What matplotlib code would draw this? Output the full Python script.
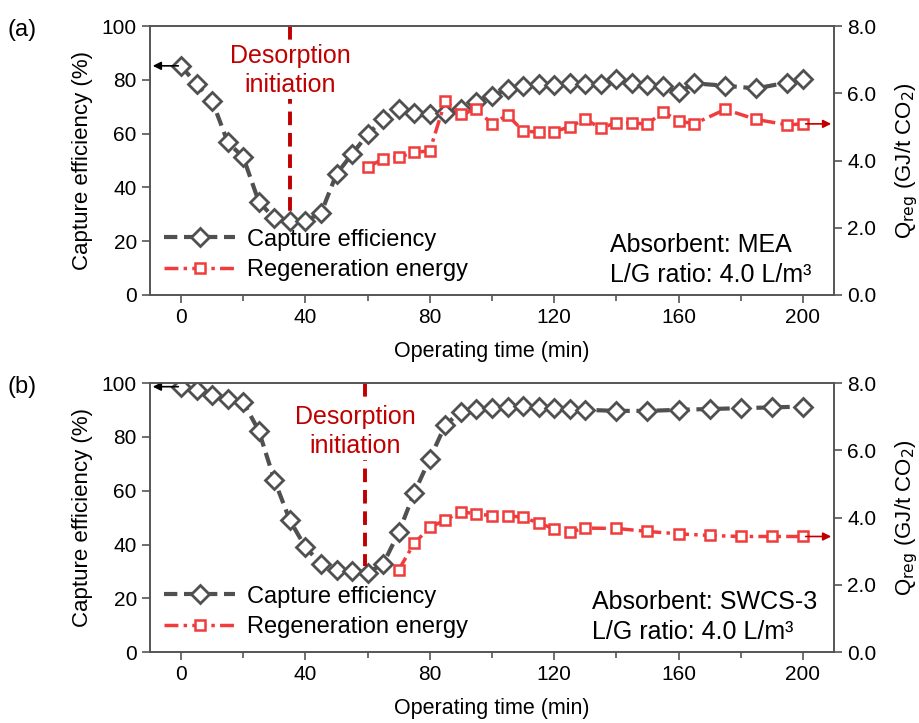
import numpy as np
import matplotlib.pyplot as plt
from matplotlib.ticker import MultipleLocator

plt.rcParams["font.family"] = ["Liberation Sans", "DejaVu Sans"]
plt.rcParams["font.size"] = 15

# ---- panel (a): MEA ----
t_ce_a = [0, 5, 10, 15, 20, 25, 30, 35, 40, 45, 50, 55, 60, 65, 70, 75, 80, 85, 90, 95,
          100, 105, 110, 115, 120, 125, 130, 135, 140, 145, 150, 155, 160, 165, 175, 185, 195, 200]
ce_a = [85.2, 78.3, 72.2, 56.8, 51.2, 34.7, 28.5, 27.6, 27.6, 30.4, 45.0, 52.4, 59.7, 65.4,
        69.0, 67.8, 67.4, 67.5, 69.0, 71.9, 74.0, 76.5, 77.8, 78.3, 78.0, 79.0, 78.3, 78.3,
        80.3, 78.7, 78.0, 77.8, 75.3, 78.7, 77.8, 76.8, 79.0, 80.3]
t_q_a = [60, 65, 70, 75, 80, 85, 90, 95, 100, 105, 110, 115, 120, 125, 130, 135, 140, 145,
         150, 155, 160, 165, 175, 185, 195, 200]
q_a = [3.80, 4.05, 4.10, 4.24, 4.29, 5.78, 5.38, 5.52, 5.09, 5.35, 4.88, 4.84, 4.86, 5.00,
       5.23, 4.96, 5.13, 5.12, 5.08, 5.45, 5.18, 5.09, 5.52, 5.22, 5.06, 5.09]

# ---- panel (b): SWCS-3 ----
t_ce_b = [0, 5, 10, 15, 20, 25, 30, 35, 40, 45, 50, 55, 60, 65, 70, 75, 80, 85, 90, 95,
          100, 105, 110, 115, 120, 125, 130, 140, 150, 160, 170, 180, 190, 200]
ce_b = [98.7, 97.5, 95.5, 94.3, 93.0, 82.3, 64.0, 49.0, 39.0, 32.8, 30.6, 30.0, 29.6, 32.8,
        44.5, 59.3, 71.9, 84.5, 89.4, 90.4, 90.7, 91.3, 91.5, 91.3, 90.7, 90.3, 90.1, 89.7,
        89.7, 90.1, 90.4, 90.7, 91.0, 91.3]
t_q_b = [70, 75, 80, 85, 90, 95, 100, 105, 110, 115, 120, 125, 130, 140, 150, 160, 170,
         180, 190, 200]
q_b = [2.45, 3.24, 3.71, 3.93, 4.18, 4.11, 4.06, 4.06, 4.01, 3.84, 3.67, 3.57, 3.69, 3.68,
       3.59, 3.52, 3.47, 3.44, 3.44, 3.44]

# tag, series, desorption line x / end y, text x / y, absorbent, note x
panels = [
    ("(a)", t_ce_a, ce_a, t_q_a, q_a, 35, 29, 35, 83.5, "Absorbent: MEA", 0.672),
    ("(b)", t_ce_b, ce_b, t_q_b, q_b, 59, 32, 56, 82, "Absorbent: SWCS-3", 0.646),
]

gray = "#505050"
red = "#f03c3c"
dark_red = "#c00000"
spine = "#555555"

fig = plt.figure(figsize=(9.19, 7.23), dpi=100)
bottoms = [0.592, 0.098]

for (tag, t1, y1, t2, y2, xdes, ydes_end, xtext, ytext, absorbent, xnote), bot in zip(panels, bottoms):
    ax = fig.add_axes([0.1632, bot, 0.7443, 0.372])
    ax2 = ax.twinx()

    ln1, = ax.plot(t1, y1, color=gray, ls=(0, (3.2, 1.6)), lw=3, marker="D", ms=9.5,
                   mfc="white", mec=gray, mew=2, label="Capture efficiency")
    ln2, = ax2.plot(t2, y2, color=red, ls=(0, (4, 1.5, 1, 1.5)), lw=2.5, marker="s", ms=6.8,
                    mfc="white", mec=red, mew=1.8, label="Regeneration energy")

    # desorption initiation marker
    ax.plot([xdes, xdes], [100, ydes_end], color=dark_red, ls=(0, (3.5, 2)), lw=2.8)
    ax.text(xtext, ytext, "Desorption\ninitiation", color=dark_red, ha="center", va="center",
            fontsize=18, linespacing=1.28,
            bbox=dict(facecolor="white", edgecolor="none", pad=1))

    # arrows pointing to each series' axis
    ax.annotate("", xy=(-10, y1[0]), xytext=(t1[0], y1[0]),
                arrowprops=dict(arrowstyle="-|>", color="black", lw=1.2, mutation_scale=12))
    ax2.annotate("", xy=(210, y2[-1]), xytext=(t2[-1], y2[-1]),
                 arrowprops=dict(arrowstyle="-|>", color=dark_red, lw=1.2, mutation_scale=12))

    ax.set_xlim(-10, 210)
    ax.set_ylim(0, 100)
    ax2.set_ylim(0, 8)
    ax.xaxis.set_major_locator(MultipleLocator(40))
    ax.xaxis.set_minor_locator(MultipleLocator(20))
    ax.yaxis.set_major_locator(MultipleLocator(20))
    ax2.yaxis.set_major_locator(MultipleLocator(2))
    ax2.yaxis.set_major_formatter(plt.FormatStrFormatter("%.1f"))

    for a in (ax, ax2):
        for s in a.spines.values():
            s.set_color(spine)
            s.set_linewidth(1.2)
        a.tick_params(which="both", direction="out", color=spine, width=1.2, labelsize=15)
        a.tick_params(which="major", length=6)
        a.tick_params(which="minor", length=4)

    ax.set_ylabel("Capture efficiency (%)", fontsize=16, labelpad=6)
    ax2.set_ylabel(r"Q$_{\mathrm{reg}}$ (GJ/t CO$_2$)", fontsize=16, labelpad=12)
    ax.set_xlabel("Operating time (min)", fontsize=15.5, labelpad=10)

    ax.legend(handles=[ln1, ln2], loc="lower left", frameon=False, handlelength=3.0,
              fontsize=17, borderaxespad=0.2, handletextpad=0.5, labelspacing=0.35)

    ax.text(xnote, 0.03, absorbent + "\nL/G ratio: 4.0 L/m³", transform=ax.transAxes,
            ha="left", va="bottom", fontsize=18, linespacing=1.3)

    fig.text(0.008, bot + 0.372 - 0.005, tag, fontsize=17, va="center", ha="left")

fig.savefig("out.png", dpi=100)
